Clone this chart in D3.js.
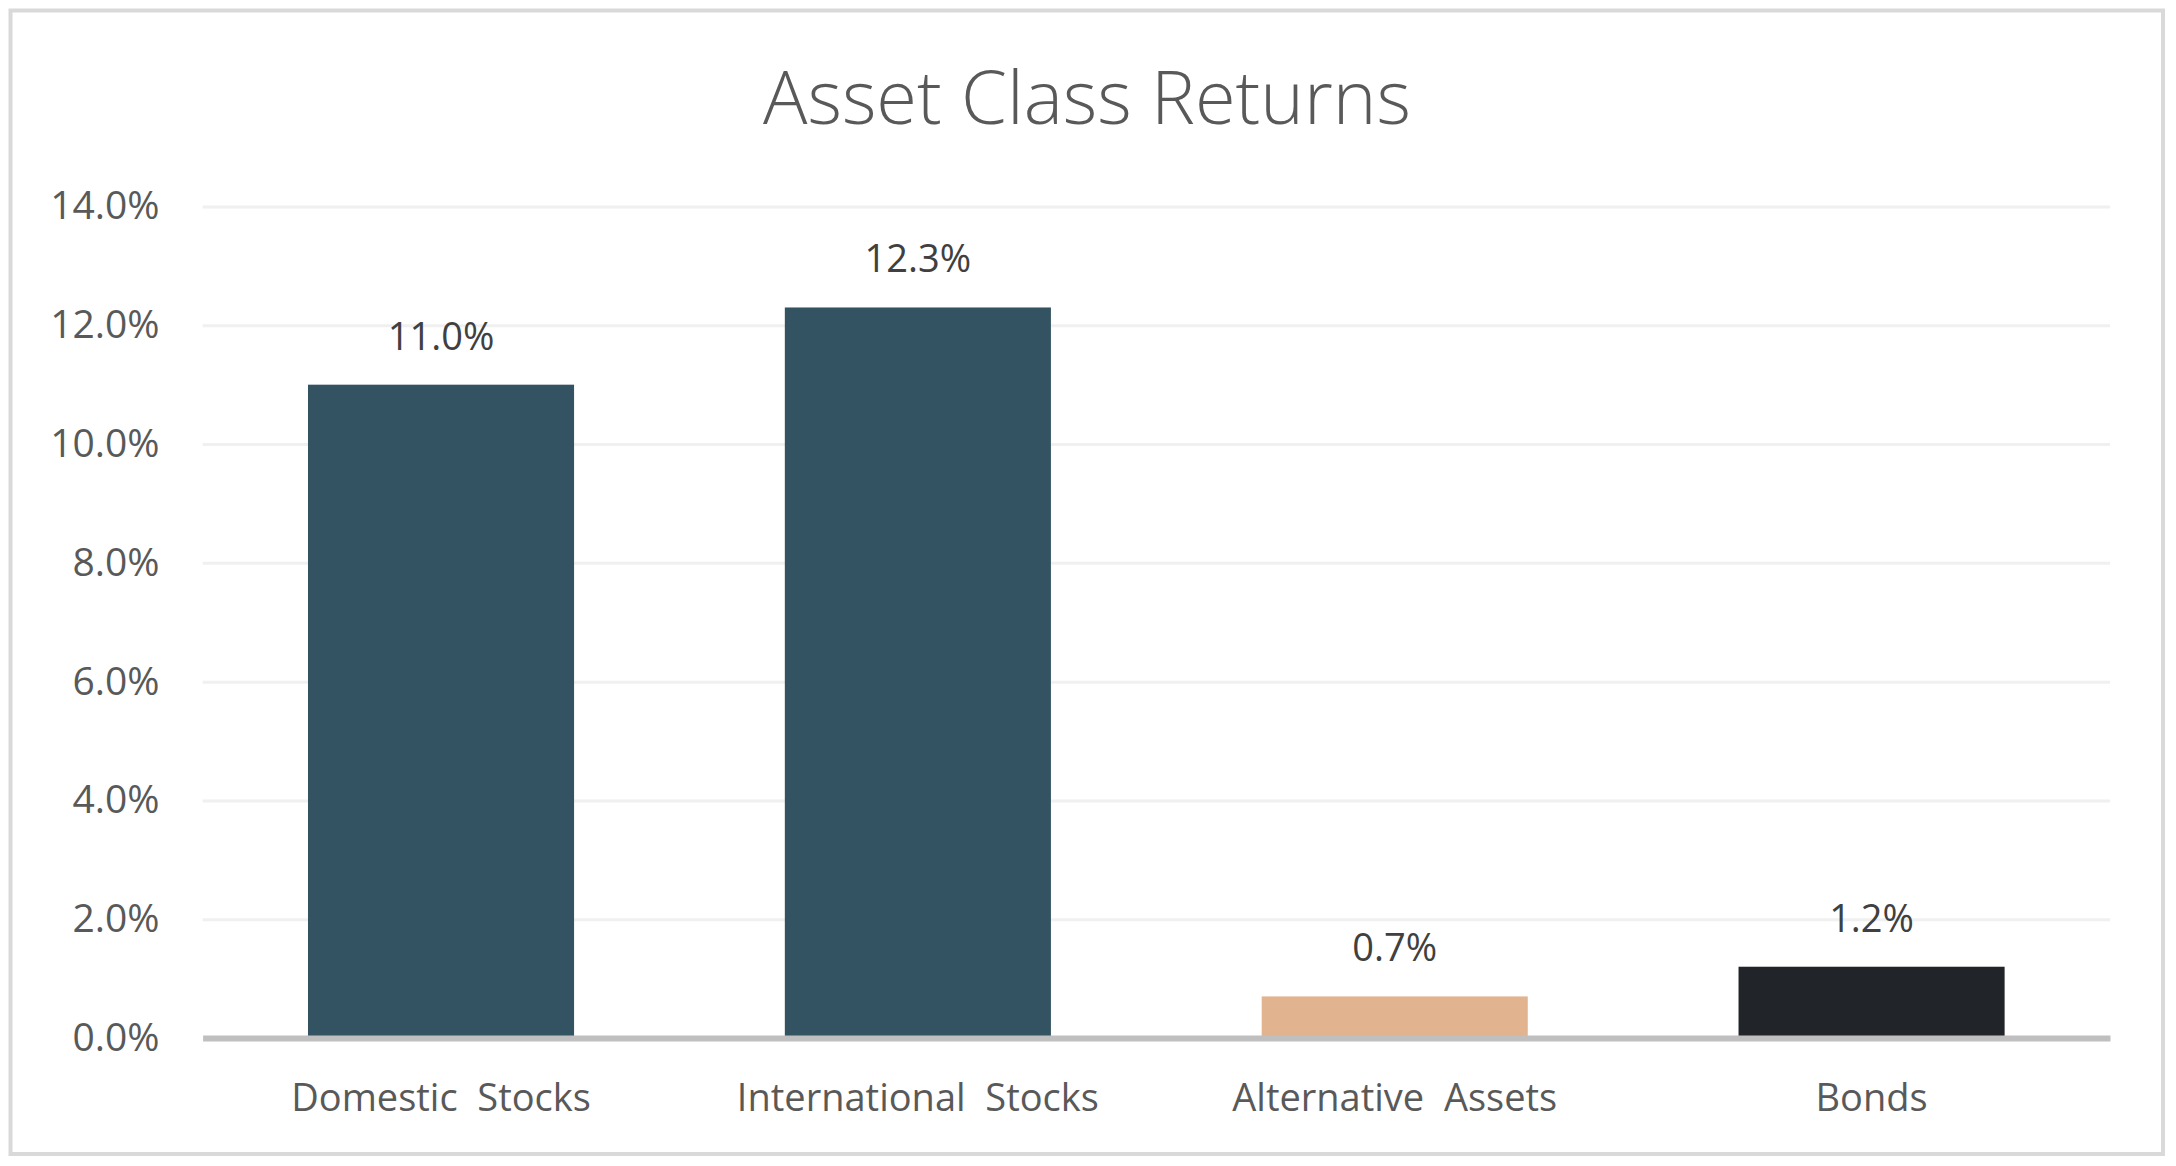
<!DOCTYPE html>
<html>
<head>
<meta charset="utf-8">
<script src="https://cdn.jsdelivr.net/npm/d3@7"></script>
<style>
  body { margin: 0; background: #ffffff; }
  text { font-family: "Open Sans", "Noto Sans", sans-serif; }
</style>
</head>
<body>
<script>
// chart data
const categories = ["Domestic  Stocks", "International  Stocks", "Alternative  Assets", "Bonds"];
const returns = [11.0, 12.3, 0.7, 1.2];
const barColors = ["#335262", "#335262", "#e2b38f", "#212428"];
const yTicks = [0, 2, 4, 6, 8, 10, 12, 14];
const title = "Asset Class Returns";

const width = 2176, height = 1166;
const plot = { left: 202.6, right: 2110, top: 206.5, bottom: 1038 };

const svg = d3.select("body").append("svg")
    .attr("width", width)
    .attr("height", height);

// outer frame
svg.append("rect")
    .attr("x", 10.5).attr("y", 10.5)
    .attr("width", 2152.5).attr("height", 1143.5)
    .attr("fill", "#ffffff")
    .attr("stroke", "#d9d9d9")
    .attr("stroke-width", 4);

svg.append("text")
    .attr("x", 1087).attr("y", 124)
    .attr("text-anchor", "middle")
    .attr("font-size", 74)
    .attr("font-weight", 300)
    .attr("fill", "#595959")
    .text(title);

const x = d3.scaleBand()
    .domain(categories)
    .range([plot.left, plot.right])
    .paddingInner(0.442)
    .paddingOuter(0.221);

const y = d3.scaleLinear()
    .domain([0, 14])
    .range([plot.bottom, plot.top]);

// gridlines + tick labels
const yAxis = svg.append("g")
    .attr("transform", "translate(" + plot.left + ",0)")
    .call(d3.axisLeft(y).tickValues(yTicks)
        .tickSize(-(plot.right - plot.left))
        .tickPadding(43)
        .tickFormat(d => d.toFixed(1) + "%"));
yAxis.select(".domain").remove();
yAxis.selectAll(".tick line")
    .attr("stroke", "#f0f0f0")
    .attr("stroke-width", 3)
    .filter(d => d === 0).remove();
yAxis.selectAll(".tick text")
    .attr("font-size", 39)
    .attr("fill", "#595959")
    .attr("font-family", null);

// bars
svg.selectAll("rect.bar")
    .data(returns)
    .enter().append("rect")
    .attr("class", "bar")
    .attr("x", (d, i) => x(categories[i]))
    .attr("y", d => y(d))
    .attr("width", x.bandwidth())
    .attr("height", d => y(0) - y(d))
    .attr("fill", (d, i) => barColors[i]);

// value labels
svg.selectAll("text.value")
    .data(returns)
    .enter().append("text")
    .attr("class", "value")
    .attr("x", (d, i) => x(categories[i]) + x.bandwidth() / 2)
    .attr("y", d => y(d) - 35)
    .attr("text-anchor", "middle")
    .attr("font-size", 38)
    .attr("fill", "#404040")
    .text(d => d.toFixed(1) + "%");

// category axis
const xAxis = svg.append("g")
    .attr("transform", "translate(0," + y(0) + ")")
    .call(d3.axisBottom(x).tickSize(0).tickPadding(46));
xAxis.select(".domain")
    .attr("stroke", "#bfbfbf")
    .attr("stroke-width", 6);
xAxis.selectAll(".tick text")
    .attr("font-size", 38)
    .attr("fill", "#595959")
    .attr("font-family", null)
    .style("white-space", "pre");
</script>
</body>
</html>
